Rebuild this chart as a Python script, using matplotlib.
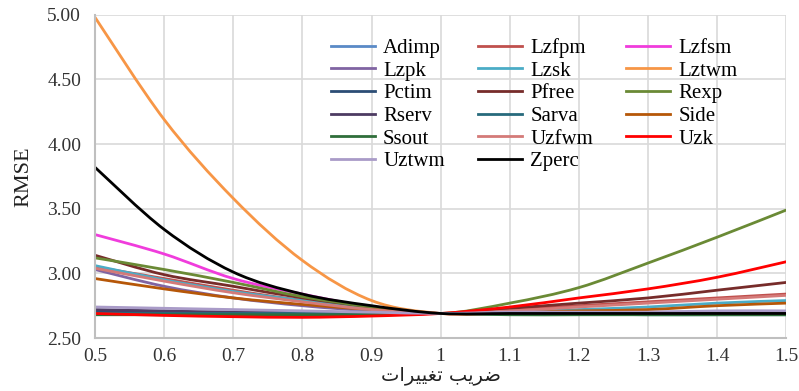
import matplotlib
matplotlib.use("Agg")
import matplotlib.pyplot as plt
from matplotlib.path import Path
from matplotlib.patches import PathPatch
from matplotlib.lines import Line2D

# multiplier applied to each parameter
factor = [0.5, 0.6, 0.7, 0.8, 0.9, 1.0, 1.1, 1.2, 1.3, 1.4, 1.5]

names = ["Adimp", "Lzfpm", "Lzfsm", "Lzpk", "Lzsk", "Lztwm",
         "Pctim", "Pfree", "Rexp", "Rserv", "Sarva", "Side",
         "Ssout", "Uzfwm", "Uzk", "Uztwm", "Zperc"]

adimp = [2.70, 2.70, 2.695, 2.69, 2.69, 2.69, 2.69, 2.69, 2.69, 2.69, 2.69]
lzfpm = [3.05, 2.96, 2.87, 2.79, 2.73, 2.69, 2.72, 2.75, 2.78, 2.81, 2.84]
lzfsm = [3.30, 3.15, 2.96, 2.84, 2.74, 2.69, 2.69, 2.69, 2.69, 2.70, 2.70]
lzpk = [3.03, 2.90, 2.81, 2.75, 2.71, 2.69, 2.70, 2.70, 2.70, 2.70, 2.70]
lzsk = [3.06, 2.95, 2.86, 2.79, 2.73, 2.69, 2.70, 2.72, 2.74, 2.77, 2.79]
lztwm = [4.98, 4.19, 3.58, 3.10, 2.79, 2.69, 2.69, 2.69, 2.69, 2.69, 2.69]
pctim = [2.71, 2.70, 2.70, 2.69, 2.69, 2.69, 2.69, 2.69, 2.69, 2.69, 2.69]
pfree = [3.14, 2.99, 2.90, 2.81, 2.74, 2.69, 2.73, 2.77, 2.81, 2.87, 2.93]
rexp = [3.12, 3.03, 2.93, 2.82, 2.74, 2.69, 2.77, 2.89, 3.08, 3.28, 3.49]
rserv = [2.72, 2.71, 2.70, 2.70, 2.69, 2.69, 2.69, 2.69, 2.69, 2.69, 2.69]
sarva = [2.69, 2.69, 2.69, 2.69, 2.69, 2.69, 2.685, 2.685, 2.68, 2.68, 2.68]
side = [2.96, 2.88, 2.81, 2.76, 2.72, 2.69, 2.70, 2.71, 2.72, 2.75, 2.77]
ssout = [2.68, 2.68, 2.68, 2.68, 2.68, 2.69, 2.68, 2.68, 2.68, 2.68, 2.68]
uzfwm = [3.04, 2.94, 2.85, 2.78, 2.72, 2.69, 2.71, 2.74, 2.77, 2.80, 2.83]
uzk = [2.69, 2.675, 2.665, 2.66, 2.67, 2.69, 2.74, 2.81, 2.88, 2.97, 3.09]
uztwm = [2.74, 2.73, 2.72, 2.71, 2.70, 2.69, 2.70, 2.70, 2.70, 2.71, 2.71]
zperc = [3.82, 3.34, 3.01, 2.84, 2.75, 2.69, 2.69, 2.69, 2.69, 2.69, 2.69]

series = [adimp, lzfpm, lzfsm, lzpk, lzsk, lztwm, pctim, pfree, rexp,
          rserv, sarva, side, ssout, uzfwm, uzk, uztwm, zperc]

colors = ["#5A8AC6", "#C0504D", "#F03CDC", "#8064A2", "#4BACC6", "#F79646",
          "#2C4D75", "#772C2A", "#6A8A35", "#4D3B62", "#276A7C", "#B65708",
          "#2F6E3A", "#D47A78", "#FF0000", "#A99BC8", "#000000"]

yticks = [2.5, 3.0, 3.5, 4.0, 4.5, 5.0]
xticks = [0.5, 0.6, 0.7, 0.8, 0.9, 1.0, 1.1, 1.2, 1.3, 1.4, 1.5]
xtick_labels = ["0.5", "0.6", "0.7", "0.8", "0.9", "1", "1.1", "1.2", "1.3", "1.4", "1.5"]

# "ضریب تغییرات" written with presentation forms in display order
xlabel = "\uFE95\uFE8D\uFEAE\uFBFF\uFBFF\uFED0\uFE97 \uFE90\uFBFE\uFEAE\uFEBF"


def smooth_path(x, y):
    # smoothed line like a spreadsheet chart: cubic Bezier pieces
    # whose handles follow the neighbouring points (Catmull-Rom)
    n = len(x)
    verts = [(x[0], y[0])]
    codes = [Path.MOVETO]
    for i in range(n - 1):
        i0 = max(i - 1, 0)
        i3 = min(i + 2, n - 1)
        c1 = (x[i] + (x[i + 1] - x[i0]) / 6, y[i] + (y[i + 1] - y[i0]) / 6)
        c2 = (x[i + 1] - (x[i3] - x[i]) / 6, y[i + 1] - (y[i3] - y[i]) / 6)
        verts += [c1, c2, (x[i + 1], y[i + 1])]
        codes += [Path.CURVE4] * 3
    return Path(verts, codes)


plt.rcParams["font.family"] = ["Liberation Serif", "DejaVu Sans"]

fig = plt.figure(figsize=(7.99, 3.91), dpi=100)
ax = fig.add_axes([0.119, 0.1355, 0.865, 0.8265])

handles = []
for vals, name, c in zip(series, names, colors):
    ax.add_patch(PathPatch(smooth_path(factor, vals), fill=False, edgecolor=c,
                           lw=2.0, capstyle="round", joinstyle="round"))
    handles.append(Line2D([], [], color=c, lw=2.0, label=name))

ax.set_xlim(0.5, 1.5)
ax.set_ylim(2.5, 5.0)
ax.set_xticks(xticks)
ax.set_xticklabels(xtick_labels)
ax.set_yticks(yticks)
ax.set_yticklabels([f"{v:.2f}" for v in yticks])
ax.grid(True, color="#D9D9D9", lw=1.2)
ax.set_axisbelow(True)
ax.tick_params(length=0, labelsize=14, colors="#333333")
ax.tick_params(axis="y", pad=10)
ax.tick_params(axis="x", pad=7)
for s in ["top", "right"]:
    ax.spines[s].set_visible(False)
for s in ["left", "bottom"]:
    ax.spines[s].set_color("#BFBFBF")
    ax.spines[s].set_linewidth(1.5)

ax.set_ylabel("RMSE", fontsize=16, color="#222222", labelpad=10)
ax.set_xlabel(xlabel, fontsize=14, family=["DejaVu Sans"], color="#222222", labelpad=1)

# legend laid out row by row in three columns
ncol = 3
nrow = 6
order = []
for c in range(ncol):
    for r in range(nrow):
        i = r * ncol + c
        if i < len(handles):
            order.append(i)
leg = fig.legend([handles[i] for i in order], [names[i] for i in order],
                 ncol=ncol, loc="upper left",
                 bbox_to_anchor=(331 / 799, 1 - 38 / 391),
                 frameon=False, fontsize=15, handlelength=2.1,
                 handletextpad=0.4, columnspacing=1.6, labelspacing=0.15,
                 borderpad=0, borderaxespad=0)

fig.savefig("out.png", dpi=100)
